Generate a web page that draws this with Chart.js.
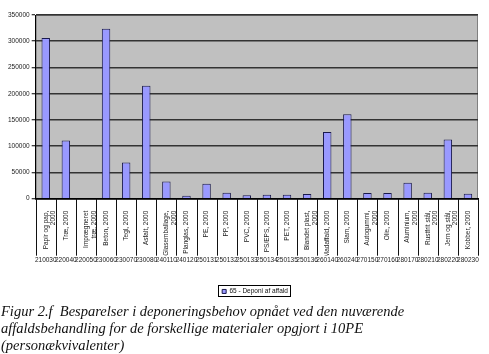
<!DOCTYPE html>
<html>
<head>
<meta charset="utf-8">
<script src="https://cdn.jsdelivr.net/npm/chart.js@4"></script>
<style>
  body { margin: 0; background: #fff; }
  #wrap { position: relative; width: 489px; height: 354px; overflow: hidden; }
  #chart-box { position: absolute; left: 0; top: 0; width: 489px; height: 306px; }
  #caption {
    position: absolute; left: 1px; top: 303px; width: 500px; white-space: nowrap;
    font-family: "Liberation Serif", "Times New Roman", serif;
    font-style: italic; font-size: 14.5px; line-height: 17px; color: #111;
  }
</style>
</head>
<body>
<div id="wrap">
  <div id="chart-box"><canvas id="deponi-chart" width="489" height="306"></canvas></div>
  <div id="caption">Figur 2.f&nbsp; Besparelser i deponeringsbehov opnået ved den nuværende<br>affaldsbehandling for de forskellige materialer opgjort i 10PE<br>(personækvivalenter)</div>
</div>
<script>
let categories = [
  ['Papir og pap,', '2000'], 'Træ, 2000', ['Imprægneret', 'træ, 2000'], 'Beton, 2000',
  'Tegl, 2000', 'Asfalt, 2000', ['Glasemballage,', '2000'], 'Planglas, 2000',
  'PE, 2000', 'PP, 2000', 'PVC, 2000', 'PS/EPS, 2000', 'PET, 2000',
  ['Blandet plast,', '2000'], 'Madaffald, 2000', 'Slam, 2000', ['Autogummi,', '2000'],
  'Olie, 2000', ['Aluminium,', '2000'], ['Rustfrit stål,', '2000'], ['Jern og stål,', '2000'],
  'Kobber, 2000'
];
let codes = [
  '210030', '220040', '220050', '230060', '230070', '230080', '240110', '240120',
  '250131', '250132', '250133', '250134', '250135', '250136', '260140', '260240',
  '270150', '270160', '280170', '280210', '280220', '280230'
];
let deponi = [
  306000, 111000, 1200, 324000, 69000, 215000, 33000, 5500,
  28500, 11500, 6500, 7500, 7500, 9000, 127000, 161000,
  11000, 11000, 30500, 11500, 113000, 9500
];
let yTicks = [0, 50000, 100000, 150000, 200000, 250000, 300000, 350000];
let seriesName = '65 - Deponi af affald';

const labelFont = { family: 'Arial, Liberation Sans, sans-serif', size: 6.5 };
const legendShift = 13;

// grey plot area, table lines under it and a box round the legend
const plotBack = {
  id: 'plotBack',
  afterUpdate(chart) {
    // legend sits a little right of centre in the original
    const lg = chart.legend;
    lg.left += legendShift;
    lg.right += legendShift;
    (lg.legendHitBoxes || []).forEach(b => { b.left += legendShift; });
  },
  beforeDraw(chart) {
    const a = chart.chartArea, ctx = chart.ctx;
    ctx.save();
    ctx.fillStyle = '#c0c0c0';
    ctx.fillRect(a.left, a.top, a.right - a.left, a.bottom - a.top);
    ctx.strokeStyle = '#808080';
    ctx.lineWidth = 1;
    ctx.strokeRect(a.left + 0.5, a.top + 0.5, a.right - a.left - 1, a.bottom - a.top);
    ctx.restore();
  },
  afterDraw(chart) {
    const x = chart.scales.x, ctx = chart.ctx;
    ctx.save();
    ctx.strokeStyle = '#111';
    ctx.lineWidth = 1;
    for (let i = 0; i <= categories.length; i++) {
      let px = Math.round(x.getPixelForValue(i - 0.5)) + 0.5;
      ctx.beginPath();
      ctx.moveTo(px, chart.chartArea.bottom);
      ctx.lineTo(px, x.bottom);
      ctx.stroke();
    }
    const boxes = chart.legend.legendHitBoxes;
    if (boxes && boxes.length) {
      const b = boxes[0];
      ctx.strokeStyle = '#000';
      ctx.strokeRect(Math.round(b.left) - 3.5, Math.round(b.top) - 2.5, Math.round(b.width) + 6, Math.round(b.height) + 4);
    }
    ctx.restore();
  }
};

let ctx = document.getElementById('deponi-chart').getContext('2d');
let chartDraw = new Chart(ctx, {
  type: 'bar',
  data: {
    labels: categories,
    datasets: [{
      label: seriesName,
      data: deponi,
      backgroundColor: '#9999ff',
      borderColor: '#1a1a4d',
      borderWidth: 1,
      borderSkipped: 'bottom',
      barPercentage: 0.42,
      categoryPercentage: 1
    }]
  },
  options: {
    responsive: false,
    animation: false,
    layout: { padding: { left: 6, right: 11, top: 15, bottom: 1.3 } },
    plugins: {
      legend: {
        position: 'bottom',
        labels: { boxWidth: 4, boxHeight: 4, padding: 6, font: labelFont, color: '#111' }
      },
      tooltip: { enabled: false }
    },
    scales: {
      x: {
        position: 'bottom',
        afterFit(scale) { scale.height = 57; },
        grid: { display: false },
        border: { color: '#000', width: 1.5 },
        ticks: { autoSkip: false, minRotation: 90, maxRotation: 90, padding: 4, font: labelFont, color: '#222' }
      },
      x2: {
        position: 'bottom',
        type: 'category',
        labels: codes,
        afterFit(scale) { scale.height = 26.5; },
        grid: { display: false, drawTicks: false },
        border: { display: false },
        ticks: { autoSkip: false, maxRotation: 0, minRotation: 0, padding: 1, font: labelFont, color: '#222' }
      },
      y: {
        min: 0, max: 350000,
        afterBuildTicks(scale) { scale.ticks = yTicks.map(v => ({ value: v })); },
        grid: { color: '#333', lineWidth: 1.5, tickLength: 4, tickColor: '#000', tickWidth: 1 },
        border: { color: '#000', width: 1 },
        ticks: { padding: 2, font: labelFont, color: '#222', callback: v => String(v) }
      }
    }
  },
  plugins: [plotBack]
});
</script>
</body>
</html>
